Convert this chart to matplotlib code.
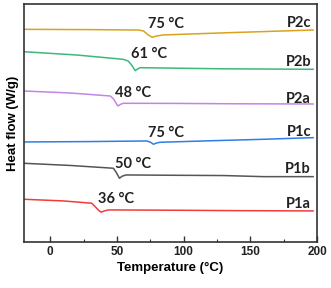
import matplotlib
matplotlib.use("Agg")
import matplotlib.pyplot as plt

# Temperature (°C) sample points and heat flow (offset, arbitrary units) per series
t_p2c = [-20, 30, 66, 70, 73, 76.5, 79, 84, 100, 140, 197]
h_p2c = [212.7, 212.4, 212.0, 211.0, 207.5, 204.7, 205.8, 207.0, 207.8, 209.6, 212.0]

t_p2b = [-20, 20, 54.7, 58.4, 61, 63.7, 65.5, 67.4, 90, 130, 197]
h_p2b = [190.3, 187.0, 182.7, 181.0, 177.0, 171.3, 173.0, 174.3, 173.9, 173.2, 172.7]

t_p2a = [-20, 15, 45, 47.5, 49.5, 50.7, 52.5, 54.7, 90, 140, 197]
h_p2a = [151.0, 149.0, 146.0, 143.0, 138.5, 136.0, 137.5, 138.7, 138.6, 138.2, 138.0]

t_p1c = [-20, 30, 72.4, 75.5, 77.4, 79.5, 82.4, 120, 160, 197]
h_p1c = [100.0, 100.4, 101.0, 99.5, 97.7, 98.9, 99.7, 101.2, 102.7, 104.3]

t_p1b = [-20, 15, 47.4, 49.5, 51.9, 54, 56.9, 90, 130, 160, 197]
h_p1b = [78.7, 76.5, 73.7, 69.5, 63.7, 65.8, 67.0, 66.7, 66.4, 65.3, 65.3]

t_p1a = [-20, 10, 31.2, 33.7, 36, 38.2, 40.5, 43.7, 80, 140, 197]
h_p1a = [42.7, 41.0, 38.7, 35.3, 32.0, 29.7, 31.0, 32.0, 31.8, 31.3, 31.0]

series_names = ["P2c", "P2b", "P2a", "P1c", "P1b", "P1a"]
series_t = [t_p2c, t_p2b, t_p2a, t_p1c, t_p1b, t_p1a]
series_h = [h_p2c, h_p2b, h_p2a, h_p1c, h_p1b, h_p1a]
colors = ["#D9A31E", "#3DB878", "#C285E6", "#2F7DE6", "#555555", "#F23B3B"]

# Glass transition annotations
tg_labels = ["75 °C", "61 °C", "48 °C", "75 °C", "50 °C", "36 °C"]
tg_label_x = [87, 74, 62, 87, 62, 49.5]
tg_label_y = [218, 188, 149, 109, 77.5, 43]
name_label_y = [219, 180, 143, 110, 73, 38]

fig = plt.figure(figsize=(3.31, 2.88), dpi=100)
ax = fig.add_axes([0.071, 0.160, 0.887, 0.826])

for t, h, c in zip(series_t, series_h, colors):
    ax.plot(t, h, color=c, lw=1.1)

for lab, x, y in zip(tg_labels, tg_label_x, tg_label_y):
    ax.text(x, y, lab, ha="center", va="center", fontsize=10.5,
            fontweight="bold", family="Lato", color="#222222")

for name, y in zip(series_names, name_label_y):
    ax.text(195.5, y, name, ha="right", va="center", fontsize=10.5,
            fontweight="bold", family="Lato", color="#222222")

ax.set_xlim(-20, 200)
ax.set_ylim(0, 238)
ax.set_xticks([0, 50, 100, 150, 200])
ax.set_xticks([25, 75, 125, 175], minor=True)
ax.set_yticks([])
ax.tick_params(axis="x", which="major", direction="in", length=4, width=1,
               labelsize=8.5, pad=3, colors="#333333")
ax.tick_params(axis="x", which="minor", direction="in", length=2, width=0.8,
               colors="#333333")
for lbl in ax.get_xticklabels():
    lbl.set_fontweight("bold")
    lbl.set_family("Liberation Sans")
    lbl.set_color("#222222")
for sp in ax.spines.values():
    sp.set_color("#333333")
    sp.set_linewidth(1.2)

ax.set_xlabel("Temperature (°C)", fontsize=9.5, fontweight="bold",
              family="Liberation Sans", labelpad=3)
ax.set_ylabel("Heat flow (W/g)", fontsize=9.5, fontweight="bold",
              family="Liberation Sans", labelpad=3)

fig.savefig("out.png", dpi=100)
